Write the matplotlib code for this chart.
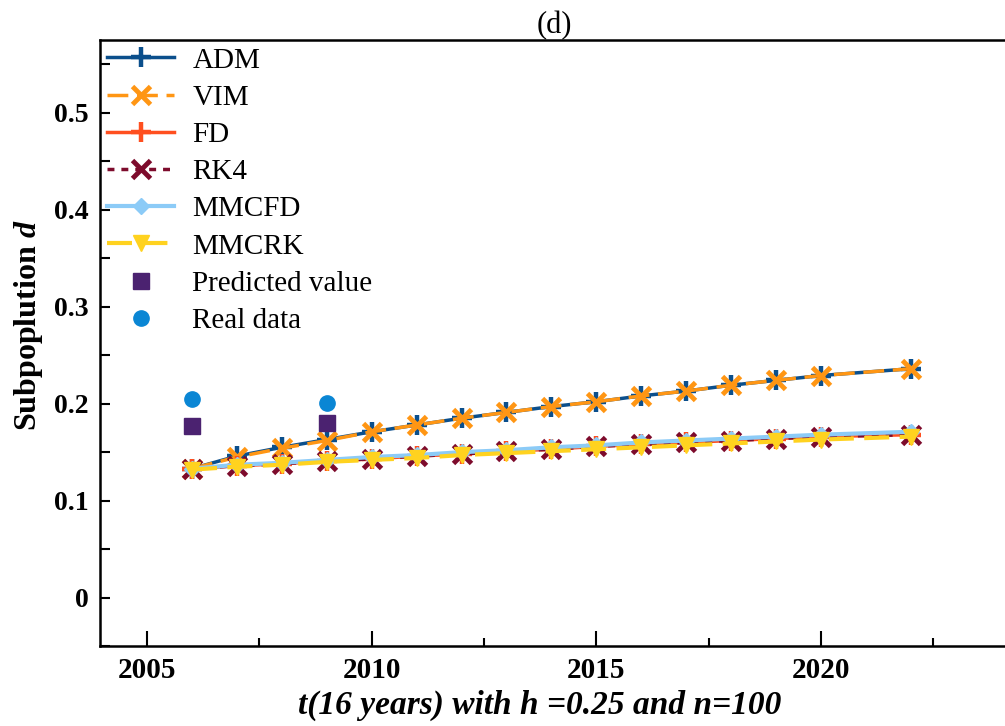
import numpy as np
import matplotlib.pyplot as plt

plt.rcParams['font.family'] = ['Liberation Serif', 'DejaVu Serif']
plt.rcParams['mathtext.fontset'] = 'custom'
plt.rcParams['mathtext.bfit'] = 'Liberation Serif:bold:italic'

# lata (2006..2020, 2022)
lata = [2006, 2007, 2008, 2009, 2010, 2011, 2012, 2013, 2014, 2015,
        2016, 2017, 2018, 2019, 2020, 2022]

# gorna krzywa (ADM / VIM)
adm = [0.133, 0.146, 0.155, 0.163, 0.171, 0.178, 0.185, 0.191, 0.197, 0.202,
       0.208, 0.213, 0.219, 0.224, 0.229, 0.236]
vim = [0.133, 0.145, 0.154, 0.162, 0.171, 0.178, 0.185, 0.191, 0.197, 0.202,
       0.208, 0.213, 0.219, 0.224, 0.229, 0.236]

# dolne krzywe (FD / RK4 / MMCFD / MMCRK)
fd = [0.133, 0.136, 0.138, 0.141, 0.143, 0.146, 0.148, 0.151, 0.153, 0.156,
      0.158, 0.160, 0.162, 0.164, 0.166, 0.168]
rk4 = [0.133, 0.136, 0.138, 0.141, 0.143, 0.146, 0.148, 0.151, 0.153, 0.156,
       0.158, 0.160, 0.162, 0.164, 0.166, 0.168]
mmcfd = [0.133, 0.137, 0.139, 0.142, 0.145, 0.147, 0.150, 0.152, 0.155, 0.157,
         0.160, 0.162, 0.164, 0.166, 0.168, 0.171]
mmcrk = [0.132, 0.135, 0.137, 0.140, 0.142, 0.144, 0.147, 0.149, 0.151, 0.153,
         0.155, 0.157, 0.159, 0.161, 0.163, 0.166]

# dane punktowe
lataDane = [2006, 2009]
przewidywane = [0.177, 0.180]
rzeczywiste = [0.205, 0.201]

fig = plt.figure(figsize=(10.05, 7.26), dpi=100)
ax = fig.add_axes([0.0995, 0.110, 0.905, 0.835])

ax.plot(lata, adm, color="#0b4f8c", lw=2.5, marker="+", ms=15, mew=3.2, label="ADM")
ax.plot(lata, vim, color="#ff9614", lw=2.5, ls=(0, (6, 2.5)), marker="x", ms=13, mew=3.5, label="VIM")
ax.plot(lata, fd, color="#ff4f1f", lw=2.5, marker="+", ms=15, mew=3.2, label="FD")
ax.plot(lata, rk4, color="#7d0b2c", lw=2.5, ls=(0, (2, 2)), marker="x", ms=13, mew=3.5, label="RK4")
ax.plot(lata, mmcfd, color="#8ccbf7", lw=3, marker="D", ms=8, label="MMCFD")
ax.plot(lata, mmcrk, color="#ffd21f", lw=3, ls=(0, (6, 2.5)), marker="v", ms=11, label="MMCRK")
ax.plot(lataDane, przewidywane, ls="none", marker="s", ms=11, color="#4b2270", label="Predicted value")
ax.plot(lataDane, rzeczywiste, ls="none", marker="o", ms=11, color="#0a86d4", label="Real data")

ax.set_xlim(2003.95, 2024.2)
ax.set_ylim(-0.05, 0.575)
ax.set_xticks([2005, 2010, 2015, 2020])
ax.set_xticks(np.arange(2007.5, 2024, 5), minor=True)
ax.set_yticks([0, 0.1, 0.2, 0.3, 0.4, 0.5])
ax.set_yticklabels(["0", "0.1", "0.2", "0.3", "0.4", "0.5"])
ax.set_yticks(np.arange(-0.05, 0.58, 0.1), minor=True)

ax.tick_params(axis="x", which="major", direction="in", length=11, width=1.5, labelsize=21, pad=8)
ax.tick_params(axis="x", which="minor", direction="in", length=6, width=1.5)
ax.tick_params(axis="y", which="both", direction="in", length=7, width=1.5, labelsize=20, pad=8)
for lab in ax.get_xticklabels() + ax.get_yticklabels():
    lab.set_fontweight("bold")
for s in ax.spines.values():
    s.set_linewidth(1.8)

ax.set_title("(d)", fontsize=22, pad=0)
ax.set_ylabel(r"Subpoplution $\boldsymbol{d}$", fontsize=23, fontweight="bold")
ax.yaxis.set_label_coords(-0.061, 0.53)
ax.set_xlabel("t(16 years) with h =0.25 and n=100", fontsize=24, fontweight="bold",
              fontstyle="italic")
ax.xaxis.set_label_coords(0.4838, -0.0715)

ax.legend(loc="upper left", frameon=False, fontsize=21, handlelength=2.3,
          handletextpad=0.62, labelspacing=0.37, borderaxespad=0.05, borderpad=0.2)

fig.savefig("out.png", dpi=100)
